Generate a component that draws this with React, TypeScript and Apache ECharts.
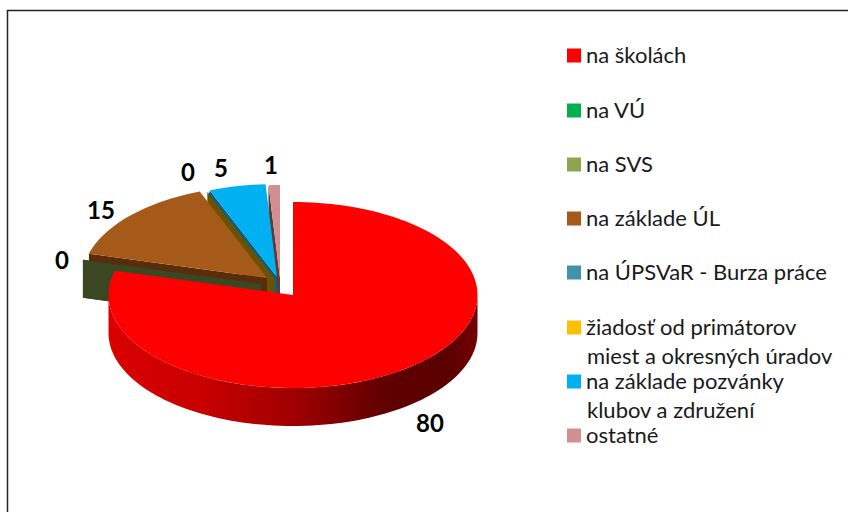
import React, { useEffect, useRef } from "react";
import * as echarts from "echarts";

const categories = [
  "na školách",
  "na VÚ",
  "na SVS",
  "na základe ÚL",
  "na ÚPSVaR - Burza práce",
  "žiadosť od primátorov",
  "na základe pozvánky",
  "ostatné",
];
const secondLines = ["", "", "", "", "", "miest a okresných úradov", "klubov a združení", ""];
const values = [80, 0, 0, 15, 0, 0, 5, 1];
const showLabel = [true, false, true, true, false, true, true, true];
const colors = ["#ff0000", "#00b050", "#8ba64e", "#a65a1a", "#4392ac", "#ffc000", "#00b0f0", "#d09090"];
const wallColors = ["#900000", "#0b4a28", "#3b4722", "#5a2c0a", "#0f5f7a", "#6b5200", "#0a5c80", "#5c3a3a"];

// layout: pseudo-3D pie geometry, kept apart from the data
const RX = 184.5;
const RY = 93;
const DEPTH = 38;
const apexX = [293, 261, 261, 267, 276, 274.6, 277, 280];
const apexY = [295, 284, 284, 278, 278, 278.6, 277, 278];
const labelX = [430, 62, 62, 101, 188, 188, 221, 271];
const labelY = [422, 259, 259, 209, 171, 171, 167, 164];
const legendCenters = [55, 110, 164, 218, 272, 327, 381, 435];
const secondLineCenters = [0, 0, 0, 0, 0, 355, 409, 0];
const paintOrder = [7, 6, 4, 5, 3, 1, 2, 0];

const FONT = "Lato, 'Noto Sans', sans-serif";
const total = values.reduce((a, b) => a + b, 0);

function angleRows() {
  let acc = 0;
  return values.map((v) => {
    const start = (acc / total) * 360;
    acc += v;
    return [v, start, (acc / total) * 360];
  });
}

function rim(i: number, deg: number, drop = 0): number[] {
  const r = (deg * Math.PI) / 180;
  return [apexX[i] + RX * Math.sin(r), apexY[i] - RY * Math.cos(r) + drop];
}

function arc(i: number, a: number, b: number, drop = 0): number[][] {
  const pts: number[][] = [];
  const n = Math.max(2, Math.ceil(Math.abs(b - a) / 2));
  for (let k = 0; k <= n; k++) pts.push(rim(i, a + ((b - a) * k) / n, drop));
  return pts;
}

function makeRender(i: number) {
  return (_p: any, api: any) => {
    const v = api.value(0);
    const start = api.value(1);
    const end = api.value(2);
    const children: any[] = [];
    const ax = apexX[i];
    const ay = apexY[i];
    if (start > 180) {
      const [rx, ry] = rim(i, start);
      children.push({
        type: "polygon",
        shape: { points: [[ax, ay], [rx, ry], [rx, ry + DEPTH], [ax, ay + DEPTH]] },
        style: { fill: wallColors[i] },
      });
    }
    const a = Math.max(start, 90);
    const b = Math.min(end, 270);
    if (b > a) {
      const pts = [...arc(i, a, b), ...arc(i, b, a, DEPTH)];
      children.push({
        type: "polygon",
        shape: { points: pts },
        style: {
          fill: {
            type: "linear",
            x: 0,
            y: 0,
            x2: 1,
            y2: 0,
            colorStops: [
              { offset: 0, color: "#da0000" },
              { offset: 0.25, color: "#c80000" },
              { offset: 0.5, color: "#a00000" },
              { offset: 0.75, color: "#600000" },
              { offset: 0.92, color: "#5a0000" },
              { offset: 1, color: "#760000" },
            ],
          },
        },
      });
    }
    if (v > 0) {
      children.push({
        type: "polygon",
        shape: { points: [[ax, ay], ...arc(i, start, end)] },
        style: { fill: colors[i] },
      });
    }
    if (showLabel[i]) {
      children.push({
        type: "text",
        style: {
          x: labelX[i],
          y: labelY[i],
          text: String(v),
          fill: "#000000",
          font: `bold 24px ${FONT}`,
          align: "center",
          verticalAlign: "middle",
        },
      });
    }
    return { type: "group", children };
  };
}

export default function App() {
  const ref = useRef<HTMLDivElement>(null);
  useEffect(() => {
    const chart = echarts.init(ref.current!, undefined, { renderer: "svg" });
    const rows = angleRows();
    chart.setOption({
      animation: false,
      backgroundColor: "#ffffff",
      legend: categories.map((name, i) => ({
        data: [name],
        left: 567,
        top: legendCenters[i] - 12,
        padding: 0,
        icon: "rect",
        itemWidth: 14,
        itemHeight: 14,
        selectedMode: false,
        formatter: (n: string) => `{t|${n}}`,
        textStyle: {
          rich: {
            t: {
              color: "#1a1a1a",
              fontSize: 22,
              fontFamily: FONT,
              lineHeight: 20,
              padding: [0, 0, 3, 0],
            },
          },
        },
      })),
      graphic: [
        {
          type: "rect",
          shape: { x: 7.5, y: 10.5, width: 860, height: 530 },
          style: { fill: "none", stroke: "#222222", lineWidth: 1.5 },
          silent: true,
        },
        ...categories
          .map((_, i) => i)
          .filter((i) => secondLines[i])
          .map((i) => ({
            type: "text",
            style: {
              x: 587,
              y: secondLineCenters[i],
              text: secondLines[i],
              fill: "#1a1a1a",
              fontSize: 22,
              fontFamily: FONT,
              lineHeight: 20,
              verticalAlign: "middle",
            },
          })),
      ],
      series: paintOrder.map((i, order) => ({
        type: "custom",
        name: categories[i],
        coordinateSystem: "none",
        z: 2 + order,
        itemStyle: { color: colors[i] },
        data: [rows[i]],
        renderItem: makeRender(i),
      })),
    });
    return () => chart.dispose();
  }, []);
  return (
    <div
      ref={ref}
      style={{ position: "fixed", left: 0, top: 0, width: 848, height: 512, background: "#fff" }}
    />
  );
}
